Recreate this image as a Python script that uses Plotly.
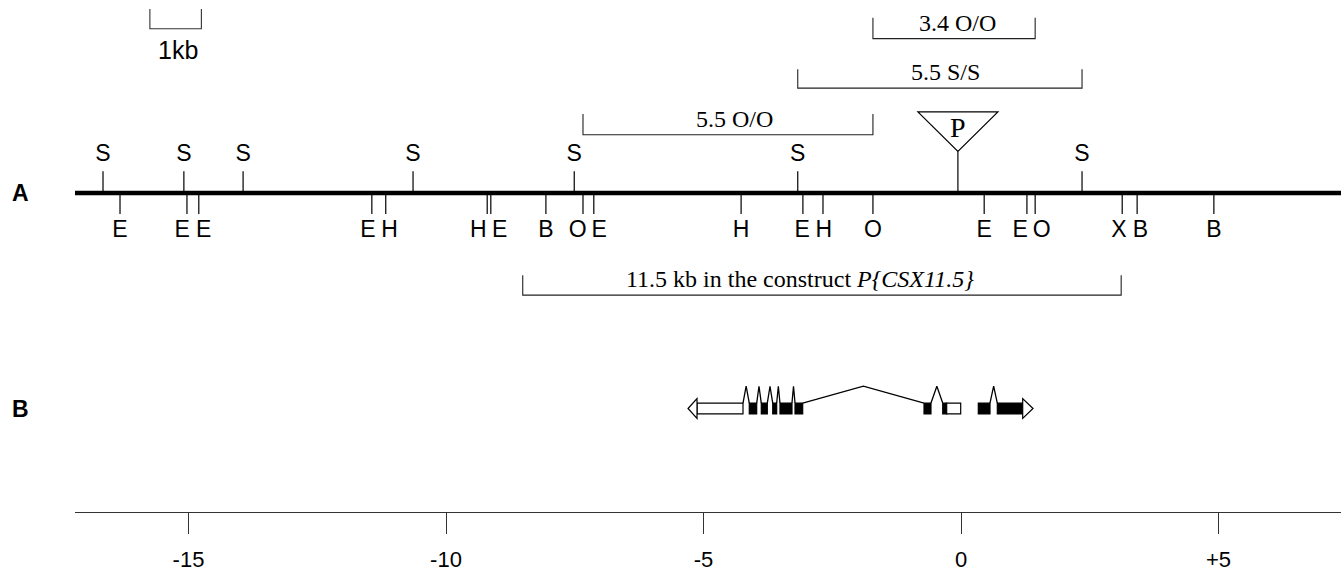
import plotly.graph_objects as go

# ---------------- data (kb, relative to the P insertion) ----------------
upper_sites = [-16.66, -15.09, -13.94, -10.64, -7.51, -3.17, 2.35]
upper_labels = ["S", "S", "S", "S", "S", "S", "S"]

lower_sites = [-16.33, -15.03, -14.80, -11.44, -11.17, -9.20, -9.13, -8.06, -7.34, -7.13,
               -4.27, -3.07, -2.68, -1.71, 0.45, 1.28, 1.44, 3.13, 3.42, 4.91]
lower_labels = ["E", "E", "E", "E", "H", "H", "E", "B", "O", "E",
                "H", "E", "H", "O", "E", "E", "O", "X", "B", "B"]

p_insertion = -0.06

fragment_starts = [-1.71, -3.17, -7.34, -8.51]
fragment_ends = [1.44, 2.35, -1.71, 3.11]
fragment_labels = ["3.4 O/O", "5.5 S/S", "5.5 O/O",
                   "11.5 kb in the construct <i>P{CSX11.5}</i>"]

exon_starts = [-5.126, -4.111, -3.878, -3.656, -3.515, -3.223, -0.718, -0.355, -0.278, 0.336, 0.705]
exon_ends = [-4.233, -3.967, -3.761, -3.579, -3.282, -3.074, -0.583, -0.278, -0.006, 0.563, 1.198]
exon_fills = ["white", "black", "black", "black", "black", "black",
              "black", "black", "white", "black", "black"]
left_arrow_tip = -5.30
right_arrow_tip = 1.398

intron_from = [-4.233, -3.967, -3.761, -3.579, -3.282, -3.074, -0.583, 0.563]
intron_to = [-4.111, -3.878, -3.656, -3.515, -3.223, -0.718, -0.355, 0.705]

scale_bar_start, scale_bar_end = -15.75, -14.75

axis_tickvals = [-15, -10, -5, 0, 5]
axis_ticktext = ["-15", "-10", "-5", "0", "+5"]

# ---------------- layout constants (pixels) ----------------
W, H = 1341, 572
ML, MR, MT, MB = 75, 0, 0, 55
PX_PER_KB = 51.5
X0 = (ML - 961) / PX_PER_KB
X1 = (W - 961) / PX_PER_KB

SANS = "Liberation Sans, Arial, sans-serif"
SERIF = "Liberation Serif, Times New Roman, serif"

MAP_Y = 195
UP_TOP = 173
LOW_TOP, LOW_BOT = 197, 216
UP_LABEL_Y, LOW_LABEL_Y = 157, 233
EX_Y0, EX_Y1 = 407, 418
EX_MID = (EX_Y0 + EX_Y1) / 2
PEAK_Y = 390

fig = go.Figure()
shapes = []
annotations = []

# main restriction map line
shapes.append(dict(type="line", xref="x", yref="y", x0=X0, x1=X1, y0=MAP_Y, y1=MAP_Y,
                   line=dict(color="black", width=4.5)))

# upper ticks
xs, ys = [], []
for s in upper_sites:
    xs += [s, s, None]
    ys += [UP_TOP, MAP_Y, None]
fig.add_trace(go.Scatter(x=xs, y=ys, mode="lines", line=dict(color="black", width=1.2),
                         hoverinfo="skip", showlegend=False))
fig.add_trace(go.Scatter(x=upper_sites, y=[UP_LABEL_Y] * len(upper_sites), mode="text",
                         text=upper_labels, textfont=dict(family=SANS, size=23, color="black"),
                         hoverinfo="skip", showlegend=False))

# lower ticks
xs, ys = [], []
for s in lower_sites:
    xs += [s, s, None]
    ys += [LOW_TOP, LOW_BOT, None]
fig.add_trace(go.Scatter(x=xs, y=ys, mode="lines", line=dict(color="black", width=1.2),
                         hoverinfo="skip", showlegend=False))

# spread labels of close sites apart
min_sep = 21.5 / PX_PER_KB
lab_x = list(lower_sites)
for i in range(len(lab_x) - 1):
    gap = lower_sites[i + 1] - lower_sites[i]
    if gap < min_sep:
        mid = (lower_sites[i] + lower_sites[i + 1]) / 2
        lab_x[i] = mid - min_sep / 2
        lab_x[i + 1] = mid + min_sep / 2
fig.add_trace(go.Scatter(x=lab_x, y=[LOW_LABEL_Y] * len(lab_x), mode="text",
                         text=lower_labels, textfont=dict(family=SANS, size=23, color="black"),
                         hoverinfo="skip", showlegend=False))

# P element insertion
tri_half = 40 / PX_PER_KB
shapes.append(dict(type="line", xref="x", yref="y", x0=p_insertion, x1=p_insertion,
                   y0=153, y1=MAP_Y, line=dict(color="black", width=1.2)))
shapes.append(dict(type="path", xref="x", yref="y",
                   path=f"M {p_insertion - tri_half},113 L {p_insertion + tri_half},113 L {p_insertion},153 Z",
                   fillcolor="white", line=dict(color="black", width=1.2)))
annotations.append(dict(x=p_insertion, y=129, xref="x", yref="y", text="P", showarrow=False,
                        font=dict(family=SERIF, size=28, color="black"),
                        xanchor="center", yanchor="middle"))

# restriction fragment brackets
bracket_rows = [(18, 39), (70, 89), (115, 136), (278, 298)]
label_shift = [3, 6, 7, -22]
for a, b, lab, (top, bot), sh in zip(fragment_starts, fragment_ends, fragment_labels,
                                     bracket_rows, label_shift):
    shapes.append(dict(type="path", xref="x", yref="y",
                       path=f"M {a},{top} L {a},{bot} L {b},{bot} L {b},{top}",
                       line=dict(color="#222", width=1.1)))
    annotations.append(dict(x=(a + b) / 2, y=bot - 16, xref="x", yref="y", text=lab,
                            showarrow=False, xshift=sh,
                            font=dict(family=SERIF, size=24, color="black"),
                            xanchor="center", yanchor="middle"))

# scale bar
shapes.append(dict(type="path", xref="x", yref="y",
                   path=f"M {scale_bar_start},9 L {scale_bar_start},29 L {scale_bar_end},29 L {scale_bar_end},9",
                   line=dict(color="#333", width=1.1)))
annotations.append(dict(x=(scale_bar_start + scale_bar_end) / 2, y=50, xref="x", yref="y",
                        text="1kb", showarrow=False, xshift=2,
                        font=dict(family=SANS, size=25, color="black"),
                        xanchor="center", yanchor="middle"))

# gene model: introns
xs, ys = [], []
for a, b in zip(intron_from, intron_to):
    xs += [a, (a + b) / 2, b, None]
    ys += [EX_Y0, PEAK_Y, EX_Y0, None]
fig.add_trace(go.Scatter(x=xs, y=ys, mode="lines", line=dict(color="black", width=1.3),
                         hoverinfo="skip", showlegend=False))

# gene model: exons
for a, b, f in zip(exon_starts, exon_ends, exon_fills):
    shapes.append(dict(type="rect", xref="x", yref="y", x0=a, x1=b, y0=EX_Y0, y1=EX_Y1,
                       fillcolor=f, line=dict(color="black", width=1.2)))
# arrow heads
shapes.append(dict(type="path", xref="x", yref="y",
                   path=f"M {left_arrow_tip},{EX_MID} L {exon_starts[0]},{EX_MID - 10} L {exon_starts[0]},{EX_MID + 10} Z",
                   fillcolor="white", line=dict(color="black", width=1.2)))
shapes.append(dict(type="path", xref="x", yref="y",
                   path=f"M {right_arrow_tip},{EX_MID} L {exon_ends[-1]},{EX_MID - 10} L {exon_ends[-1]},{EX_MID + 10} Z",
                   fillcolor="white", line=dict(color="black", width=1.2)))

# panel labels
annotations.append(dict(x=-55 / (W - ML - MR), y=MAP_Y, xref="paper", yref="y", text="<b>A</b>",
                        showarrow=False, font=dict(family=SANS, size=23, color="black"),
                        xanchor="center", yanchor="middle"))
annotations.append(dict(x=-55 / (W - ML - MR), y=EX_MID, xref="paper", yref="y", text="<b>B</b>",
                        showarrow=False, font=dict(family=SANS, size=23, color="black"),
                        xanchor="center", yanchor="middle"))

fig.update_layout(
    width=W, height=H,
    margin=dict(l=ML, r=MR, t=MT, b=MB, pad=0),
    paper_bgcolor="white", plot_bgcolor="white",
    shapes=shapes, annotations=annotations,
    showlegend=False,
    xaxis=dict(range=[X0, X1], showgrid=False, zeroline=False, showline=True,
               linecolor="#333", linewidth=1.2, ticks="outside", ticklen=21, tickwidth=1.2,
               tickcolor="#333", tickvals=axis_tickvals, ticktext=axis_ticktext,
               tickfont=dict(family=SANS, size=22, color="black"), ticklabelstandoff=6,
               fixedrange=True),
    yaxis=dict(range=[H - MB, 0], visible=False, fixedrange=True),
)

fig.write_html("out.html",
               config={"displayModeBar": False},
               post_script="document.body.style.margin='0';document.body.style.overflow='hidden';")
